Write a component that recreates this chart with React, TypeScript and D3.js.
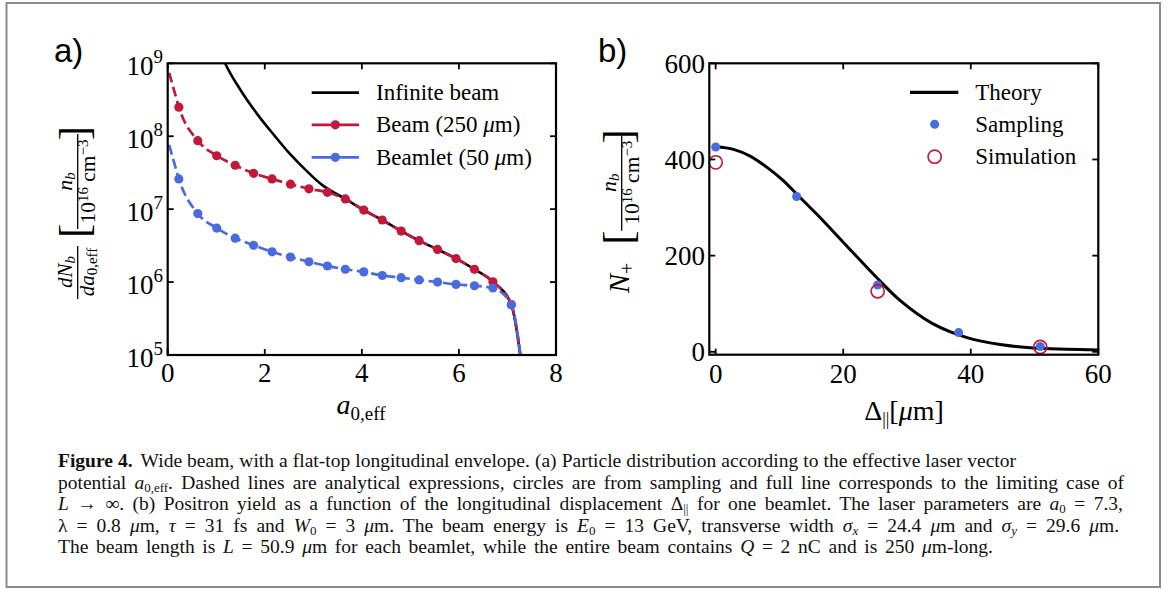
import React, { useEffect, useRef } from "react";
import * as d3 from "d3";

const W = 1174;
const H = 589;
const FONT = "'Liberation Serif', 'Times New Roman', serif";
const SANS = "'Liberation Sans', Arial, sans-serif";
const RED = "#c2183c";
const BLUE = "#4a6ae0";

// ---------- Panel (a) data ----------
const aTicksX = [0, 2, 4, 6, 8];
const aTicksYExp = [5, 6, 7, 8, 9];

// sampled markers
const sampleA = [0.23, 0.62, 1.01, 1.39, 1.77, 2.15, 2.53, 2.91, 3.29, 3.66, 4.04, 4.42, 4.81, 5.18, 5.56, 5.94, 6.32, 6.70, 7.08];
const beamSampled = [2.5e8, 8.7e7, 5.4e7, 4.0e7, 3.1e7, 2.6e7, 2.2e7, 1.9e7, 1.7e7, 1.38e7, 9.7e6, 7.1e6, 5.0e6, 3.7e6, 2.8e6, 2.1e6, 1.5e6, 1.01e6, 4.9e5];
const beamletSampled = [2.6e7, 8.7e6, 5.5e6, 4.0e6, 3.2e6, 2.6e6, 2.2e6, 1.9e6, 1.66e6, 1.5e6, 1.38e6, 1.23e6, 1.15e6, 1.07e6, 1.0e6, 9.3e5, 8.9e5, 8.3e5, 4.9e5];

// analytical (dashed) curves
const analyticX = [0.03, 0.13, 0.23, 0.62, 1.01, 1.39, 1.77, 2.15, 2.53, 2.91, 3.29, 3.66, 4.04, 4.42, 4.81, 5.18, 5.56, 5.94, 6.32, 6.70, 7.08, 7.32];
const beamAnalytic = [7.4e8, 4.3e8, 2.5e8, 8.7e7, 5.4e7, 4.0e7, 3.1e7, 2.6e7, 2.2e7, 1.9e7, 1.7e7, 1.38e7, 9.7e6, 7.1e6, 5.0e6, 3.7e6, 2.8e6, 2.1e6, 1.5e6, 1.01e6, 4.9e5, 5.2e4];
const beamletAnalytic = [7.6e7, 4.4e7, 2.6e7, 8.7e6, 5.5e6, 4.0e6, 3.2e6, 2.6e6, 2.2e6, 1.9e6, 1.66e6, 1.5e6, 1.38e6, 1.23e6, 1.15e6, 1.07e6, 1.0e6, 9.3e5, 8.9e5, 8.3e5, 4.9e5, 5.2e4];

// infinite beam (limiting case)
const infiniteX = [1.15, 1.19, 1.5, 1.9, 2.2, 2.5, 2.85, 3.2, 3.45, 3.66, 4.04, 4.42, 4.81, 5.18, 5.56, 5.94, 6.32, 6.70, 7.08, 7.32];
const infiniteY = [1.12e9, 9.8e8, 4.3e8, 1.8e8, 1.02e8, 5.9e7, 3.4e7, 2.1e7, 1.66e7, 1.38e7, 9.7e6, 7.1e6, 5.0e6, 3.7e6, 2.8e6, 2.1e6, 1.5e6, 1.01e6, 4.9e5, 5.2e4];

// ---------- Panel (b) data ----------
const bTicksX = [0, 20, 40, 60];
const bTicksY = [0, 200, 400, 600];
const theoryX = [0, 2.8, 5.4, 8, 10.6, 12.7, 15.8, 20, 25.2, 28.9, 34.1, 39.3, 44.6, 49.8, 55, 60];
const theoryY = [427, 421, 407, 384, 356, 328, 287, 228, 155, 107, 58, 30, 15, 8, 5.5, 4];
const samplingX = [0, 12.7, 25.4, 38.1, 50.9];
const samplingY = [426, 323, 139, 40, 11];
const simulationX = [0, 25.4, 50.9];
const simulationY = [394, 126, 10];

// ---------- caption line widths (from left margin) ----------
const captionWidths = [950, 1066, 1065, 1061, 935];

// ---------- layout ----------
const A = { l: 167.7, r: 556, t: 63.3, b: 355 };
const B = { l: 709.3, r: 1098.3, t: 63.3, b: 354.7 };

function zip(xs: number[], ys: number[]): [number, number][] {
  return xs.map((x, i) => [x, ys[i]]);
}

function Frame({ p }: { p: { l: number; r: number; t: number; b: number } }) {
  return <rect x={p.l} y={p.t} width={p.r - p.l} height={p.b - p.t} fill="none" stroke="#000" strokeWidth={2.2} />;
}

export default function App() {
  const capRef = useRef<SVGGElement | null>(null);

  useEffect(() => {
    const g = capRef.current;
    if (!g) return;
    const texts = Array.from(g.querySelectorAll("text")) as SVGTextElement[];
    texts.forEach((t, i) => {
      const target = captionWidths[i];
      if (!target) return;
      const nat = t.getComputedTextLength();
      const spaces = (t.textContent || "").trim().split(/\s+/).length - 1;
      if (spaces > 0) {
        t.setAttribute("word-spacing", String((target - nat) / spaces));
      }
    });
  }, []);

  const xA = d3.scaleLinear().domain([0, 8]).range([A.l, A.r]);
  const yA = d3.scaleLog().domain([1e5, 1e9]).range([A.b, A.t]);
  const xB = d3.scaleLinear().domain([-1, 60]).range([B.l, B.r]);
  const yB = d3.scaleLinear().domain([-6, 600]).range([B.b, B.t]);

  const lineA = d3
    .line<[number, number]>()
    .x((d) => xA(d[0]))
    .y((d) => yA(d[1]))
    .curve(d3.curveMonotoneX);
  const lineB = d3
    .line<[number, number]>()
    .x((d) => xB(d[0]))
    .y((d) => yB(d[1]))
    .curve(d3.curveCatmullRom.alpha(0.5));

  const tk = 6;
  const legA = { x1: 311.7, x2: 359, tx: 376, rows: [92.7, 124.8, 157.3] };
  const legB = { x1: 910, x2: 958.3, tx: 975.3, rows: [92.3, 124.3, 156.7] };
  const sub = 13;

  return (
    <svg width={W} height={H} style={{ position: "absolute", left: 0, top: 0, background: "#fff" }} fontFamily={FONT}>
      <rect x={0} y={0} width={W} height={H} fill="#fff" />
      <defs>
        <clipPath id="clipA">
          <rect x={A.l} y={A.t} width={A.r - A.l} height={A.b - A.t} />
        </clipPath>
        <clipPath id="clipB">
          <rect x={B.l} y={B.t} width={B.r - B.l} height={B.b - B.t} />
        </clipPath>
      </defs>

      {/* outer figure frame */}
      <rect x={6.5} y={3} width={1153.5} height={584} fill="none" stroke="#8c8c8c" strokeWidth={2} />

      {/* ================= Panel a ================= */}
      <text x={54} y={62} fontFamily={SANS} fontSize={33}>a)</text>

      <g clipPath="url(#clipA)">
        <path d={lineA(zip(infiniteX, infiniteY)) || ""} fill="none" stroke="#000" strokeWidth={2.6} />
        <path d={lineA(zip(analyticX, beamAnalytic)) || ""} fill="none" stroke={RED} strokeWidth={2.7} strokeDasharray="10,4.5" />
        <path d={lineA(zip(analyticX, beamletAnalytic)) || ""} fill="none" stroke={BLUE} strokeWidth={2.7} strokeDasharray="10,4.5" />
        {sampleA.map((x, i) => (
          <circle key={"r" + i} cx={xA(x)} cy={yA(beamSampled[i])} r={4.6} fill={RED} />
        ))}
        {sampleA.map((x, i) => (
          <circle key={"b" + i} cx={xA(x)} cy={yA(beamletSampled[i])} r={4.6} fill={BLUE} />
        ))}
      </g>

      <Frame p={A} />
      {aTicksX.map((t) => (
        <g key={"ax" + t}>
          <line x1={xA(t)} x2={xA(t)} y1={A.b} y2={A.b - tk} stroke="#000" strokeWidth={1.8} />
          <line x1={xA(t)} x2={xA(t)} y1={A.t} y2={A.t + tk} stroke="#000" strokeWidth={1.8} />
          <text x={xA(t)} y={382} fontSize={27} textAnchor="middle">{t}</text>
        </g>
      ))}
      {aTicksYExp.map((e) => {
        const v = Math.pow(10, e);
        return (
          <g key={"ay" + e}>
            <line x1={A.l} x2={A.l + tk} y1={yA(v)} y2={yA(v)} stroke="#000" strokeWidth={1.8} />
            <line x1={A.r} x2={A.r - tk} y1={yA(v)} y2={yA(v)} stroke="#000" strokeWidth={1.8} />
            <text x={163} y={yA(v) + 11.5} fontSize={27} textAnchor="end">
              10<tspan dy={-12} fontSize={19}>{e}</tspan>
            </text>
          </g>
        );
      })}

      {/* x label a */}
      <text x={361} y={414} fontSize={28} textAnchor="middle">
        <tspan fontStyle="italic">a</tspan>
        <tspan fontSize={19} dy={6}>0,eff</tspan>
      </text>

      {/* y label a */}
      <g transform="translate(77.7,212) rotate(-90)">
        <text x={-60} y={-6} fontSize={21} textAnchor="middle">
          <tspan fontStyle="italic">dN</tspan>
          <tspan fontSize={15} dy={3} fontStyle="italic">b</tspan>
        </text>
        <line x1={-87} x2={-34} y1={0} y2={0} stroke="#000" strokeWidth={1.3} />
        <text x={-60} y={16} fontSize={21} textAnchor="middle">
          <tspan fontStyle="italic">da</tspan>
          <tspan fontSize={15} dy={3}>0,eff</tspan>
        </text>
        <text x={-26} y={10} fontSize={43} textAnchor="start">[</text>
        <text x={86} y={10} fontSize={43} textAnchor="end">]</text>
        <text x={30.5} y={-6} fontSize={22} textAnchor="middle">
          <tspan fontStyle="italic">n</tspan>
          <tspan fontSize={15} dy={3} fontStyle="italic">b</tspan>
        </text>
        <line x1={-17} x2={78} y1={0} y2={0} stroke="#000" strokeWidth={1.3} />
        <text x={30.5} y={17.5} fontSize={21.5} textAnchor="middle">
          10<tspan fontSize={15} dy={-7}>16</tspan>
          <tspan dy={7}> cm</tspan>
          <tspan fontSize={15} dy={-7}>−3</tspan>
        </text>
      </g>

      {/* legend a */}
      <g fontSize={23}>
        <line x1={legA.x1} x2={legA.x2} y1={legA.rows[0]} y2={legA.rows[0]} stroke="#000" strokeWidth={2.8} />
        <text x={legA.tx} y={legA.rows[0] + 7.5}>Infinite beam</text>
        <line x1={legA.x1} x2={legA.x2} y1={legA.rows[1]} y2={legA.rows[1]} stroke={RED} strokeWidth={2.8} />
        <circle cx={(legA.x1 + legA.x2) / 2} cy={legA.rows[1]} r={4.6} fill={RED} />
        <text x={legA.tx} y={legA.rows[1] + 7.5}>
          Beam (250 <tspan fontStyle="italic">μ</tspan>m)
        </text>
        <line x1={legA.x1} x2={legA.x2} y1={legA.rows[2]} y2={legA.rows[2]} stroke={BLUE} strokeWidth={2.8} />
        <circle cx={(legA.x1 + legA.x2) / 2} cy={legA.rows[2]} r={4.6} fill={BLUE} />
        <text x={legA.tx} y={legA.rows[2] + 7.5}>
          Beamlet (50 <tspan fontStyle="italic">μ</tspan>m)
        </text>
      </g>

      {/* ================= Panel b ================= */}
      <text x={598} y={62} fontFamily={SANS} fontSize={33}>b)</text>

      <g clipPath="url(#clipB)">
        <path d={lineB(zip(theoryX, theoryY)) || ""} fill="none" stroke="#000" strokeWidth={3} />
        {samplingX.map((x, i) => (
          <circle key={"s" + i} cx={xB(x)} cy={yB(samplingY[i])} r={4.5} fill={BLUE} />
        ))}
        {simulationX.map((x, i) => (
          <circle key={"m" + i} cx={xB(x)} cy={yB(simulationY[i])} r={6.6} fill="none" stroke={RED} strokeWidth={1.6} />
        ))}
      </g>

      <Frame p={B} />
      {bTicksX.map((t) => (
        <g key={"bx" + t}>
          <line x1={xB(t)} x2={xB(t)} y1={B.b} y2={B.b - tk} stroke="#000" strokeWidth={1.8} />
          <line x1={xB(t)} x2={xB(t)} y1={B.t} y2={B.t + tk} stroke="#000" strokeWidth={1.8} />
          <text x={xB(t)} y={383} fontSize={27} textAnchor="middle">{t}</text>
        </g>
      ))}
      {bTicksY.map((t) => (
        <g key={"by" + t}>
          <line x1={B.l} x2={B.l + tk} y1={yB(t)} y2={yB(t)} stroke="#000" strokeWidth={1.8} />
          <line x1={B.r} x2={B.r - tk} y1={yB(t)} y2={yB(t)} stroke="#000" strokeWidth={1.8} />
          <text x={705} y={yB(t) + 9.5} fontSize={27} textAnchor="end">{t}</text>
        </g>
      ))}

      {/* x label b */}
      <text x={904} y={420} fontSize={28} textAnchor="middle">
        Δ<tspan fontSize={18} dy={5}>||</tspan>
        <tspan dy={-5}>[</tspan>
        <tspan fontStyle="italic">μ</tspan>m]
      </text>

      {/* y label b */}
      <g transform="translate(621.7,211.7) rotate(-90)">
        <text x={-81.6} y={7.6} fontSize={29}>
          <tspan fontStyle="italic">N</tspan>
          <tspan fontSize={20} dy={5}>+</tspan>
        </text>
        <text x={-33} y={10} fontSize={43} textAnchor="start">[</text>
        <text x={82.5} y={10} fontSize={43} textAnchor="end">]</text>
        <text x={29} y={-6} fontSize={22} textAnchor="middle">
          <tspan fontStyle="italic">n</tspan>
          <tspan fontSize={15} dy={3} fontStyle="italic">b</tspan>
        </text>
        <line x1={-19} x2={77} y1={0} y2={0} stroke="#000" strokeWidth={1.3} />
        <text x={29} y={17.5} fontSize={21.5} textAnchor="middle">
          10<tspan fontSize={15} dy={-7}>16</tspan>
          <tspan dy={7}> cm</tspan>
          <tspan fontSize={15} dy={-7}>−3</tspan>
        </text>
      </g>

      {/* legend b */}
      <g fontSize={23}>
        <line x1={legB.x1} x2={legB.x2} y1={legB.rows[0]} y2={legB.rows[0]} stroke="#000" strokeWidth={3.2} />
        <text x={legB.tx} y={legB.rows[0] + 7.5}>Theory</text>
        <circle cx={(legB.x1 + legB.x2) / 2 + 0.5} cy={legB.rows[1]} r={4.5} fill={BLUE} />
        <text x={legB.tx} y={legB.rows[1] + 7.5}>Sampling</text>
        <circle cx={(legB.x1 + legB.x2) / 2 + 0.5} cy={legB.rows[2]} r={6.6} fill="none" stroke={RED} strokeWidth={1.6} />
        <text x={legB.tx} y={legB.rows[2] + 7.5}>Simulation</text>
      </g>

      {/* ================= Caption ================= */}
      <g fontSize={19.5} fill="#111" ref={capRef}>
        <text x={58} y={467}>
          <tspan fontWeight="bold">Figure 4.</tspan>
          <tspan dx={8}>Wide beam, with a flat-top longitudinal envelope. (a) Particle distribution according to the effective laser vector</tspan>
        </text>
        <text x={58} y={488.5}>
          potential <tspan fontStyle="italic">a</tspan><tspan fontSize={sub} dy={3}>0,eff</tspan><tspan dy={-3}>. Dashed lines are analytical expressions, circles are from sampling and full line corresponds to the limiting case of</tspan>
        </text>
        <text x={58} y={510}>
          <tspan fontStyle="italic">L</tspan> → ∞. (b) Positron yield as a function of the longitudinal displacement Δ<tspan fontSize={sub} dy={3}>||</tspan><tspan dy={-3}> for one beamlet. The laser parameters are </tspan><tspan fontStyle="italic">a</tspan><tspan fontSize={sub} dy={3}>0</tspan><tspan dy={-3}> = 7.3,</tspan>
        </text>
        <text x={58} y={531.5}>
          λ = 0.8 <tspan fontStyle="italic">μ</tspan>m, <tspan fontStyle="italic">τ</tspan> = 31 fs and <tspan fontStyle="italic">W</tspan><tspan fontSize={sub} dy={3}>0</tspan><tspan dy={-3}> = 3 </tspan><tspan fontStyle="italic">μ</tspan>m. The beam energy is <tspan fontStyle="italic">E</tspan><tspan fontSize={sub} dy={3}>0</tspan><tspan dy={-3}> = 13 GeV, transverse width </tspan><tspan fontStyle="italic">σ</tspan><tspan fontSize={sub} dy={3} fontStyle="italic">x</tspan><tspan dy={-3}> = 24.4 </tspan><tspan fontStyle="italic">μ</tspan>m and <tspan fontStyle="italic">σ</tspan><tspan fontSize={sub} dy={3} fontStyle="italic">y</tspan><tspan dy={-3}> = 29.6 </tspan><tspan fontStyle="italic">μ</tspan>m.
        </text>
        <text x={58} y={553}>
          The beam length is <tspan fontStyle="italic">L</tspan> = 50.9 <tspan fontStyle="italic">μ</tspan>m for each beamlet, while the entire beam contains <tspan fontStyle="italic">Q</tspan> = 2 nC and is 250 <tspan fontStyle="italic">μ</tspan>m-long.
        </text>
      </g>
    </svg>
  );
}
